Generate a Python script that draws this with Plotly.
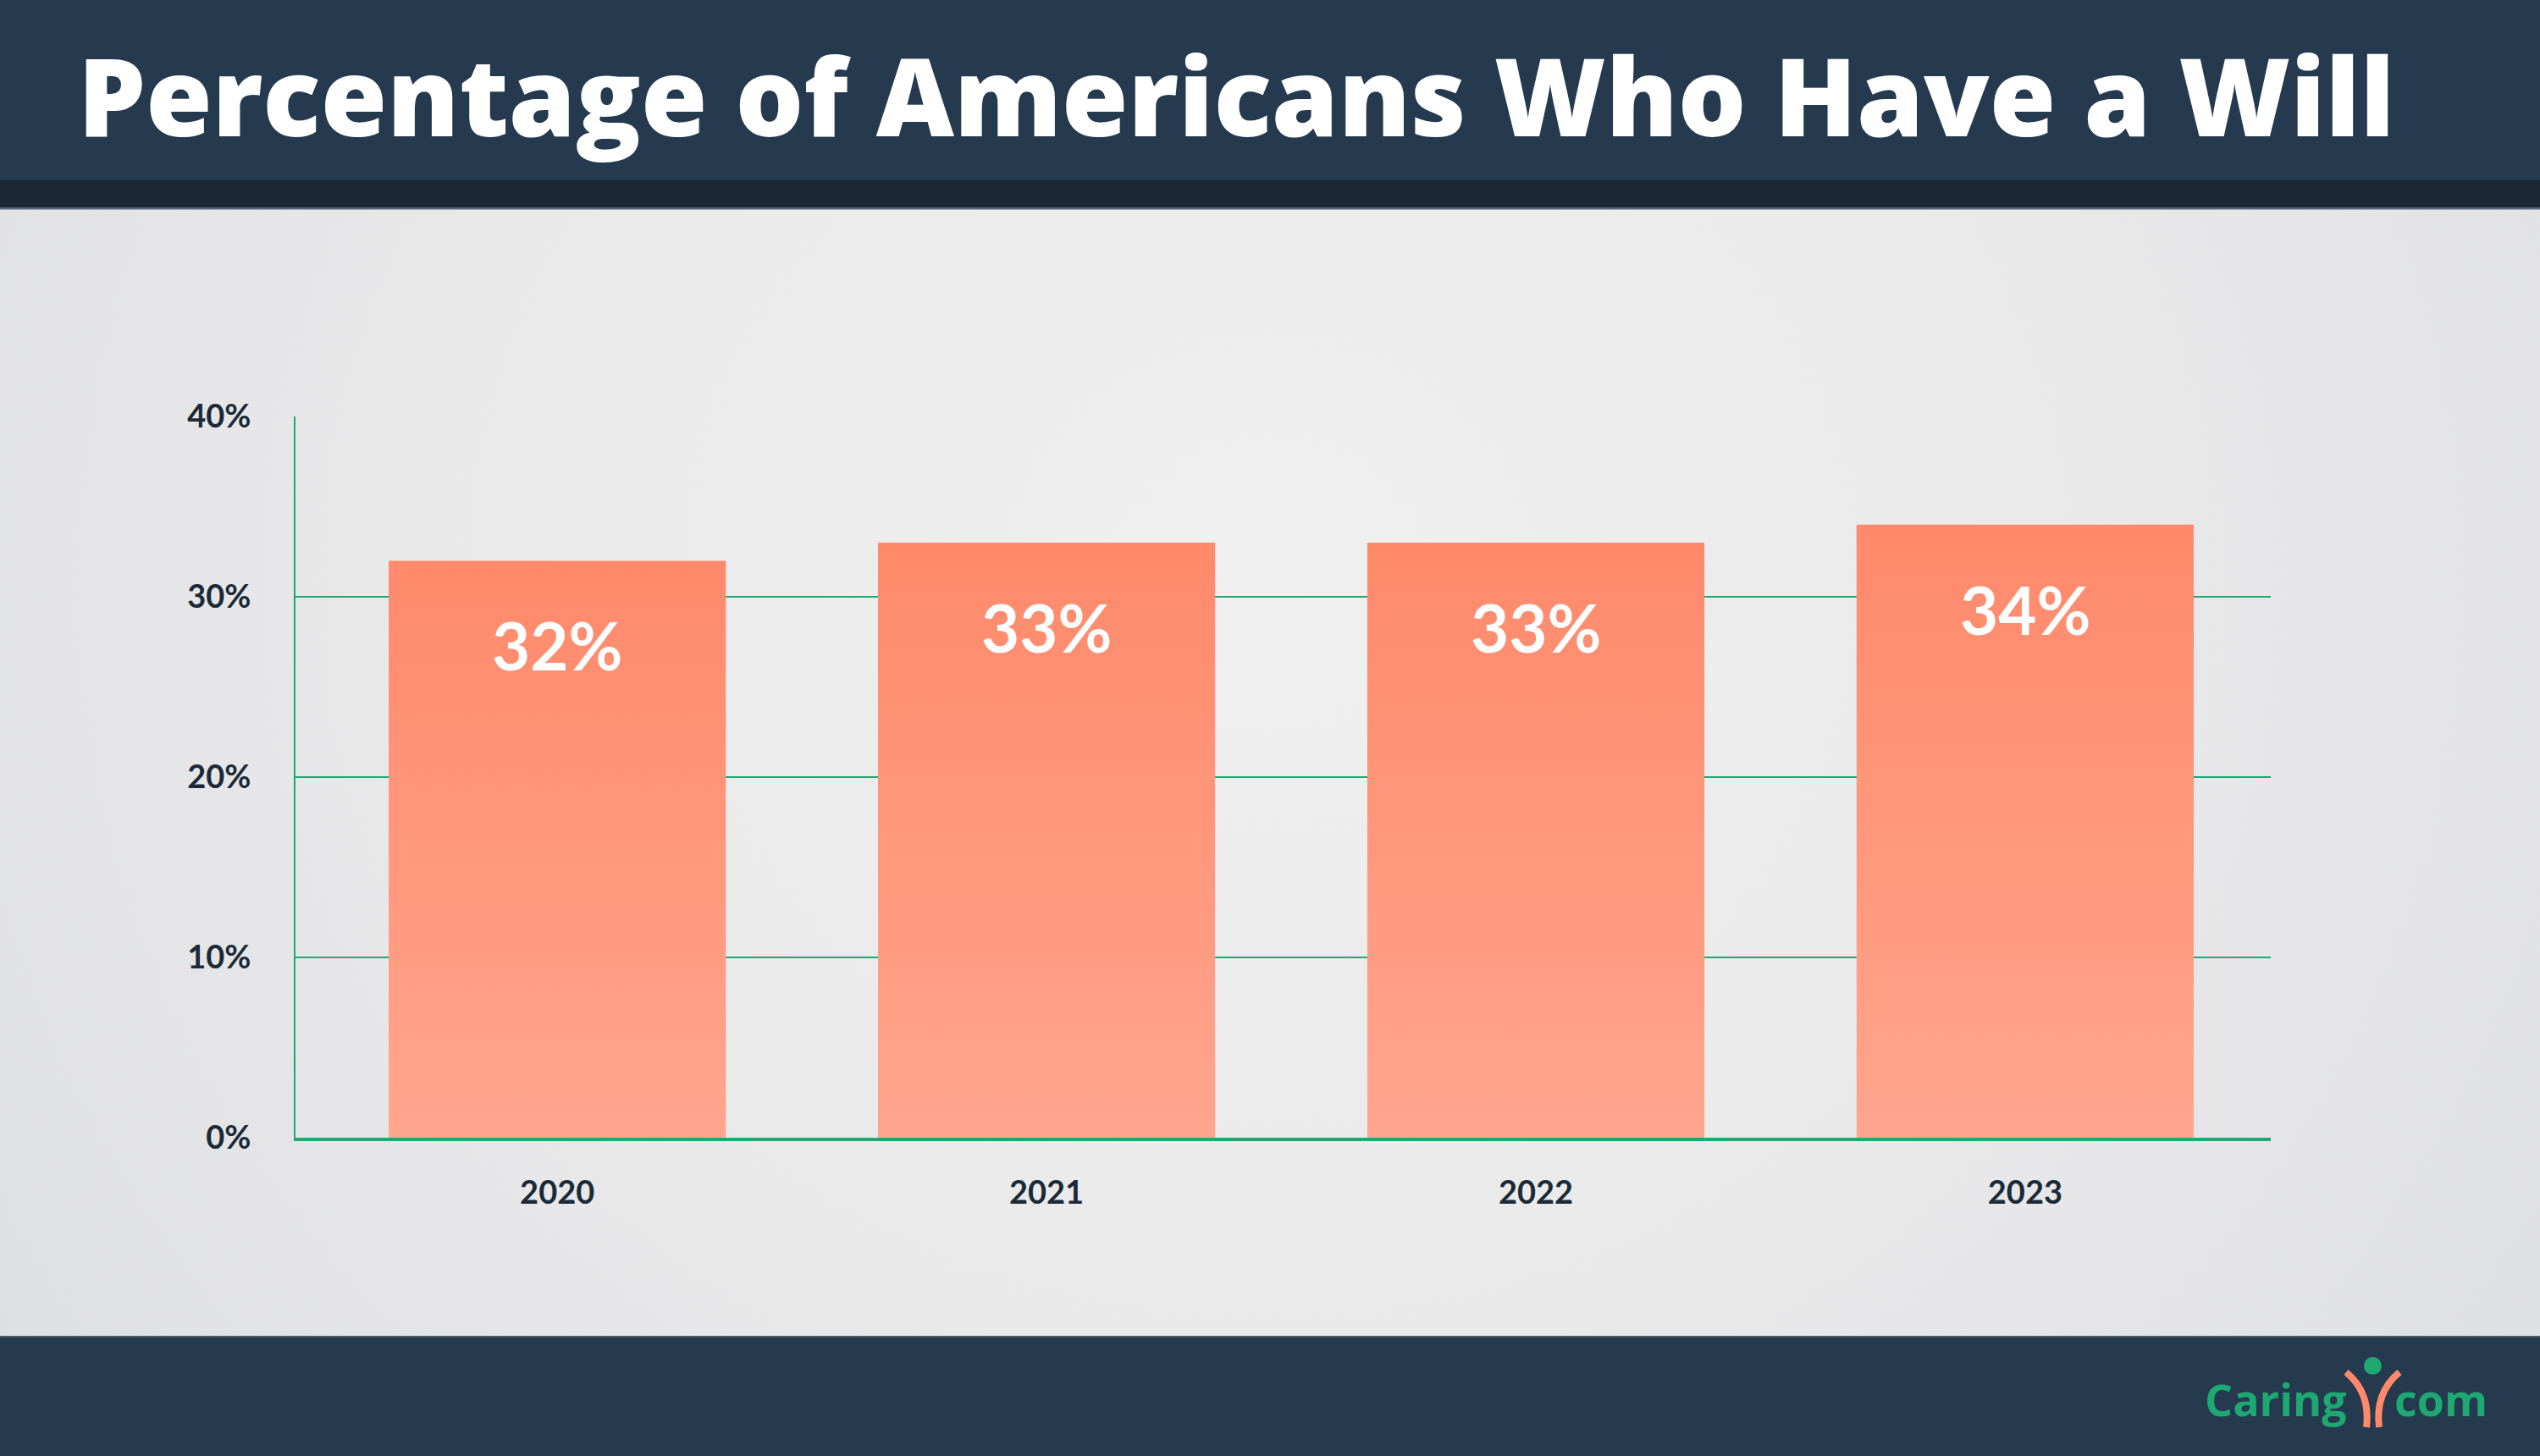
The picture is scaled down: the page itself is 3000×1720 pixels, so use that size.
import base64
import plotly.graph_objects as go

# ---- data ----
years = ["2020", "2021", "2022", "2023"]
pct_with_will = [32, 33, 33, 34]
y_tick_vals = [0, 10, 20, 30, 40]
y_tick_text = ["0%", "10%", "20%", "30%", "40%"]
title_text = "Percentage of Americans Who Have a Will"

# ---- geometry (figure pixels) ----
W, H = 3000, 1720
L, R, T, B = 349, 2682, 492, 1344


def px(X):
    return (X - L) / (R - L)


def py(Y):
    return (B - Y) / (B - T)


NAVY = "#253A4F"
STRIP = "#1A2836"
GREEN = "#1EA872"
ORANGE_TOP = "#FF896B"
ORANGE_BOT = "#FFA68E"
TXT = "#1B2A38"

fig = go.Figure()

bar_w = 0.689
for i, (yr, v) in enumerate(zip(years, pct_with_will)):
    x0, x1 = i - bar_w / 2, i + bar_w / 2
    fig.add_trace(go.Scatter(
        x=[x0, x1, x1, x0, x0], y=[0, 0, v, v, 0],
        mode="lines", line=dict(width=0), fill="toself",
        fillgradient=dict(type="vertical", start=0, stop=v,
                          colorscale=[[0, ORANGE_BOT], [1, ORANGE_TOP]]),
        hoverinfo="skip", showlegend=False, name=yr,
    ))
    fig.add_annotation(x=i, y=v, xref="x", yref="y", text=f"{v}%",
                       showarrow=False, yshift=-100, yanchor="middle",
                       font=dict(family="Lato", size=78, color="white", weight="bold"))

# background gradient image
svg = f'''<svg xmlns="http://www.w3.org/2000/svg" width="{W}" height="{H}" viewBox="0 0 {W} {H}" preserveAspectRatio="none">
<defs><radialGradient id="g" cx="50%" cy="40%" r="75%" fx="50%" fy="40%" gradientTransform="translate(0.5,0.4) scale(1,1.6) translate(-0.5,-0.4)">
<stop offset="0" stop-color="#F0F0F0"/><stop offset="0.45" stop-color="#E9E9EA"/><stop offset="1" stop-color="#D9DADE"/></radialGradient></defs>
<rect width="{W}" height="{H}" fill="url(#g)"/></svg>'''
src = "data:image/svg+xml;base64," + base64.b64encode(svg.encode()).decode()
fig.add_layout_image(source=src, xref="paper", yref="paper", x=px(0), y=py(0),
                     sizex=px(W) - px(0), sizey=py(0) - py(H), sizing="stretch",
                     xanchor="left", yanchor="top", layer="below")

shapes = [
    dict(type="rect", x0=px(0), x1=px(W), y0=py(0), y1=py(213), fillcolor=NAVY, line_width=0),
    dict(type="rect", x0=px(0), x1=px(W), y0=py(213), y1=py(247), fillcolor=STRIP, line_width=0),
    dict(type="rect", x0=px(0), x1=px(W), y0=py(245), y1=py(247.5), fillcolor="#55667A", line_width=0),
    dict(type="rect", x0=px(0), x1=px(W), y0=py(1579), y1=py(H), fillcolor=NAVY, line_width=0),
    dict(type="rect", x0=px(0), x1=px(W), y0=py(1578), y1=py(1580), fillcolor="#4C5D6E", line_width=0),
    # logo arms
    dict(type="path", path=f"M {px(2771)},{py(1621)} Q {px(2800)},{py(1645)} {px(2795)},{py(1686)}",
         line=dict(color=ORANGE_TOP, width=8)),
    dict(type="path", path=f"M {px(2834)},{py(1621)} Q {px(2805)},{py(1645)} {px(2810)},{py(1686)}",
         line=dict(color=ORANGE_TOP, width=8)),
    dict(type="circle", x0=px(2792), x1=px(2813), y0=py(1603), y1=py(1624),
         fillcolor=GREEN, line_width=0),
]
for s in shapes:
    s["xref"] = "paper"
    s["yref"] = "paper"
    s.setdefault("layer", "below")
    fig.add_shape(**s)

fig.add_annotation(text=title_text, xref="paper", yref="paper", x=px(90), y=py(111),
                   xanchor="left", yanchor="middle", showarrow=False,
                   font=dict(family="Open Sans", size=127, color="white", weight=800))
fig.add_annotation(text="Caring", xref="paper", yref="paper", x=px(2774), y=py(1652),
                   xanchor="right", yanchor="middle", showarrow=False,
                   font=dict(family="Open Sans", size=52, color=GREEN, weight="bold"))
fig.add_annotation(text="com", xref="paper", yref="paper", x=px(2826), y=py(1652),
                   xanchor="left", yanchor="middle", showarrow=False,
                   font=dict(family="Open Sans", size=52, color=GREEN, weight="bold"))

fig.update_layout(
    width=W, height=H,
    margin=dict(l=L, r=W - R, t=T, b=H - B, pad=0),
    paper_bgcolor="#E6E7E9", plot_bgcolor="rgba(0,0,0,0)",
    showlegend=False, hovermode=False,
    xaxis=dict(range=[-0.535, 3.502], tickvals=list(range(len(years))), ticktext=years,
               showgrid=False, zeroline=False, showline=True, linecolor=GREEN, linewidth=4,
               ticks="", ticklabelstandoff=28,
               tickfont=dict(family="Lato", size=38, color=TXT, weight="bold")),
    yaxis=dict(range=[0, 40], tickvals=y_tick_vals, ticktext=y_tick_text,
               showgrid=True, gridcolor=GREEN, gridwidth=1.6, zeroline=False,
               showline=True, linecolor=GREEN, linewidth=2, ticks="",
               ticklabelstandoff=43,
               tickfont=dict(family="Lato", size=38, color=TXT, weight="bold")),
)

fig.write_html("out.html", config={"displayModeBar": False},
               post_script="document.body.style.margin='0';document.body.style.overflow='hidden';")
